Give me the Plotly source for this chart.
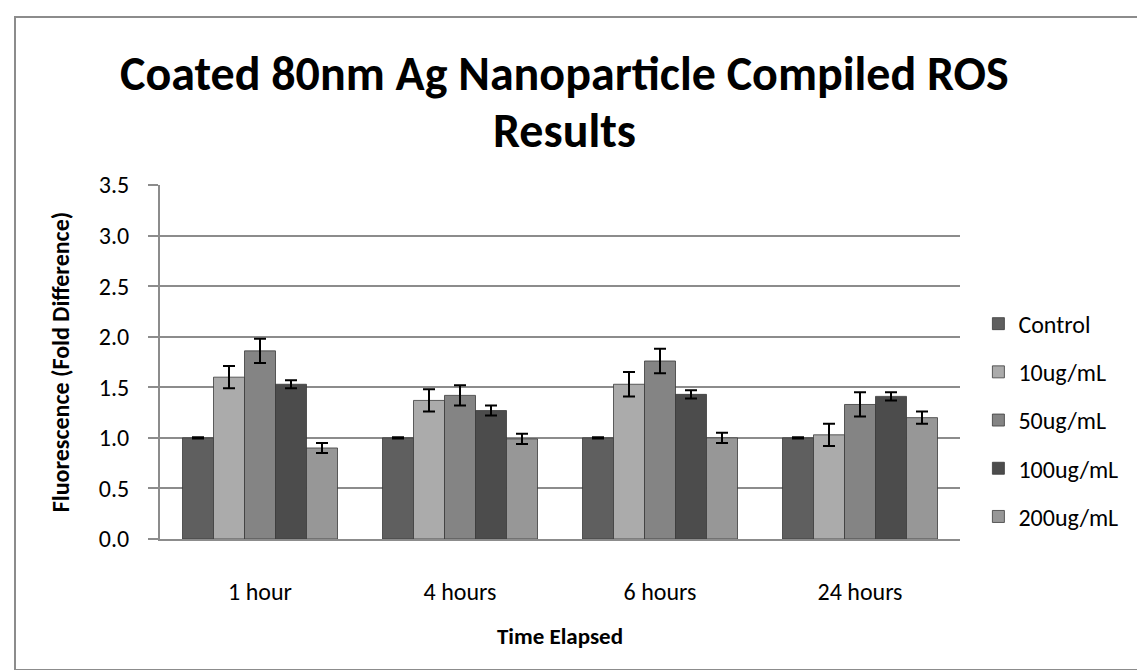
import plotly.graph_objects as go

# Data
time_points = ["1 hour", "4 hours", "6 hours", "24 hours"]
series_names = ["Control", "10ug/mL", "50ug/mL", "100ug/mL", "200ug/mL"]

control = [1.00, 1.00, 1.00, 1.00]
ug10 = [1.60, 1.37, 1.53, 1.03]
ug50 = [1.86, 1.42, 1.76, 1.33]
ug100 = [1.53, 1.27, 1.43, 1.41]
ug200 = [0.90, 0.99, 1.00, 1.20]

control_err = [0.006, 0.006, 0.006, 0.006]
ug10_err = [0.11, 0.11, 0.12, 0.11]
ug50_err = [0.12, 0.10, 0.12, 0.12]
ug100_err = [0.04, 0.05, 0.04, 0.04]
ug200_err = [0.05, 0.05, 0.05, 0.06]

y_ticks = [0.0, 0.5, 1.0, 1.5, 2.0, 2.5, 3.0, 3.5]

values = [control, ug10, ug50, ug100, ug200]
errors = [control_err, ug10_err, ug50_err, ug100_err, ug200_err]
colors = ["#5f5f5f", "#ababab", "#848484", "#4c4c4c", "#979797"]

FONT = "Carlito, Calibri, Lato, sans-serif"

# plot area in pixels (left, right, top, bottom)
PL, PR, PT, PB = 152, 952, 177, 531


def px_x(p):
    return (p - PL) / (PR - PL)


def px_y(p):
    return (PB - p) / (PB - PT)


fig = go.Figure()
for name, vals, errs, col in zip(series_names, values, errors, colors):
    fig.add_trace(go.Bar(
        x=time_points,
        y=vals,
        name=name,
        legendgroup=name,
        marker=dict(color=col, line=dict(color="#3a3a3a", width=0.8)),
        error_y=dict(type="data", array=errs, visible=True,
                     color="black", thickness=2, width=6),
    ))

# title (two lines, Excel style)
title_lines = ["Coated 80nm Ag Nanoparticle Compiled ROS", "Results"]
for line, ypix in zip(title_lines, [65, 122]):
    fig.add_annotation(
        text=f"<b>{line}</b>", xref="paper", yref="paper",
        x=0.505, y=px_y(ypix), xanchor="center", yanchor="middle",
        showarrow=False, font=dict(family=FONT, size=48, color="black"),
    )

fig.update_layout(
    width=1145,
    height=670,
    barmode="group",
    bargap=0.225,
    bargroupgap=0,
    plot_bgcolor="white",
    paper_bgcolor="white",
    font=dict(family=FONT, size=24, color="black"),
    margin=dict(l=PL, r=1145 - PR, t=PT, b=670 - PB),
    legend=dict(
        x=1.023, xanchor="left",
        y=0.336, yanchor="middle",
        font=dict(family=FONT, size=24, color="black"),
        tracegroupgap=14,
        bgcolor="rgba(0,0,0,0)",
    ),
    xaxis=dict(
        showline=True, linecolor="#8c8c8c", linewidth=2,
        showgrid=False, ticks="", ticklabelstandoff=30,
        title=dict(text="<b>Time Elapsed</b>", font=dict(family=FONT, size=23), standoff=23),
    ),
    yaxis=dict(
        range=[0, 3.5],
        tickvals=y_ticks,
        tickformat=".1f",
        showline=True, linecolor="#8c8c8c", linewidth=2,
        showgrid=True, gridcolor="#8c8c8c", gridwidth=2,
        ticks="outside", ticklen=10, tickcolor="#8c8c8c", tickwidth=2,
        ticklabelstandoff=14,
        zeroline=False,
        title=dict(text="<b>Fluorescence (Fold Difference)</b>", font=dict(family=FONT, size=24), standoff=22),
    ),
    shapes=[dict(
        type="rect", xref="paper", yref="paper",
        x0=px_x(7), x1=px_x(1138), y0=px_y(662), y1=px_y(9),
        line=dict(color="#8c8c8c", width=2), fillcolor="rgba(0,0,0,0)", layer="below",
    )],
)

fig.write_html("out.html")
